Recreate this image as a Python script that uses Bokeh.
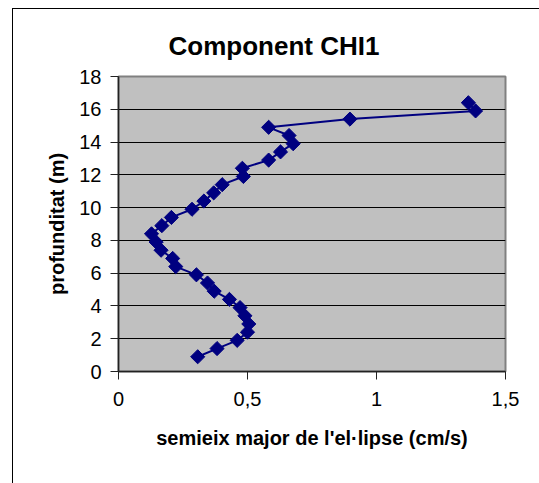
import math
from bokeh.plotting import figure
from bokeh.models import FixedTicker, Range1d, ColumnDataSource
from bokeh.embed import file_html
from bokeh.resources import INLINE

# data
depth_m = [0.9, 1.4, 1.9, 2.4, 2.9, 3.4, 3.9, 4.4, 4.9, 5.4, 5.9, 6.4, 6.9, 7.4, 7.9, 8.4,
           8.9, 9.4, 9.9, 10.4, 10.9, 11.4, 11.9, 12.4, 12.9, 13.4, 13.9, 14.4, 14.9, 15.4, 15.9, 16.4]
semiaxis_cms = [0.307, 0.382, 0.460, 0.500, 0.505, 0.490, 0.471, 0.430, 0.371, 0.345, 0.302, 0.222,
                0.210, 0.165, 0.146, 0.128, 0.168, 0.205, 0.285, 0.331, 0.369, 0.402, 0.484, 0.480,
                0.582, 0.628, 0.677, 0.661, 0.582, 0.897, 1.384, 1.356]
x_ticks = [0, 0.5, 1, 1.5]
x_tick_labels = ["0", "0,5", "1", "1,5"]
y_ticks = [0, 2, 4, 6, 8, 10, 12, 14, 16, 18]
title_text = "Component CHI1"
x_label = "semieix major de l'el·lipse (cm/s)"
y_label = "profunditat (m)"

FONT = "Liberation Sans"
NAVY = "#000080"

p = figure(width=527, height=475, output_backend="svg", toolbar_location=None,
           x_range=Range1d(0, 1.5), y_range=Range1d(0, 18),
           min_border_left=105, min_border_right=35, min_border_top=67, min_border_bottom=113)
p.margin = (8, 0, 0, 12)
p.styles = {"border-left": "1px solid #000000", "border-top": "1px solid #000000"}

p.background_fill_color = "#C0C0C0"
p.border_fill_color = "white"
p.outline_line_color = "#808080"
p.outline_line_width = 2

p.title.text = title_text
p.title.text_font = FONT
p.title.text_font_size = "26px"
p.title.text_font_style = "bold"
p.title.text_color = "black"
p.title.align = "left"
p.title.offset = 50
p.title.standoff = 30
p.title.vertical_align = "middle"

p.xgrid.grid_line_color = None
p.ygrid.grid_line_color = "#000000"
p.ygrid.grid_line_width = 1

p.xaxis.ticker = FixedTicker(ticks=x_ticks)
p.xaxis.major_label_overrides = {t: l for t, l in zip(x_ticks, x_tick_labels)}
p.yaxis.ticker = FixedTicker(ticks=y_ticks)

for ax in (p.xaxis[0], p.yaxis[0]):
    ax.axis_line_color = "#222222"
    ax.axis_line_width = 1.5
    ax.major_tick_line_color = "#222222"
    ax.major_tick_out = 8
    ax.major_tick_in = 0
    ax.minor_tick_line_color = None
    ax.major_label_text_font = FONT
    ax.major_label_text_font_size = "20px"
    ax.major_label_text_color = "black"
    ax.axis_label_text_font = FONT
    ax.axis_label_text_font_size = "20px"
    ax.axis_label_text_font_style = "bold"
    ax.axis_label_text_color = "black"

p.xaxis.axis_label = x_label
p.yaxis.axis_label = y_label
p.xaxis.major_label_standoff = 12
p.yaxis.major_label_standoff = 9
p.xaxis.axis_label_standoff = 18
p.yaxis.axis_label_standoff = 8

src = ColumnDataSource(dict(x=semiaxis_cms, y=depth_m))
p.line("x", "y", source=src, line_color=NAVY, line_width=2)
p.scatter("x", "y", source=src, marker="square", size=10, angle=math.pi / 4,
          fill_color=NAVY, line_color=NAVY, line_width=1)

open("out.html", "w").write(file_html(p, INLINE))
